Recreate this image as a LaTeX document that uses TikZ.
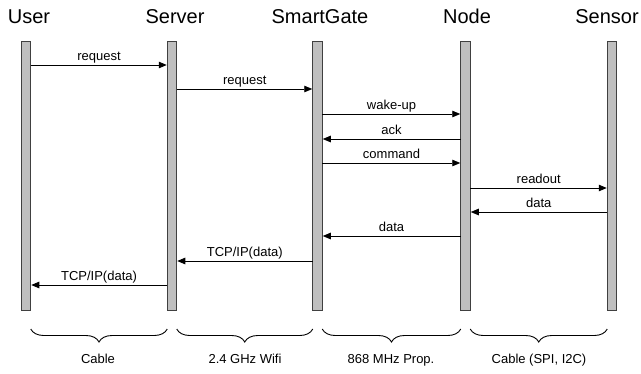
\documentclass[tikz,border=0pt]{standalone}
\usepackage{fontspec}
\setmainfont{Liberation Sans}
\usetikzlibrary{arrows.meta,decorations.pathreplacing}
\begin{document}
\begin{tikzpicture}[x=1pt,y=-1pt,
  bar/.style={draw=black!75,fill=black!25,line width=0.9pt,minimum width=9.5pt,minimum height=269pt,inner sep=0pt,outer sep=0pt},
  title/.style={font=\fontsize{20}{24}\selectfont,anchor=base,inner sep=0pt},
  lbl/.style={font=\fontsize{13}{15}\selectfont,anchor=base,inner sep=0pt},
  mlbl/.style={lbl,yshift=4.5pt},
  msg/.style={draw=black,line width=0.9pt,-{Triangle[length=8pt,width=6.5pt]},shorten >=0.5pt},
  brc/.style={draw=black,line width=0.9pt,decorate,decoration={brace,mirror,amplitude=13pt}}]
\useasboundingbox (0,0) rectangle (641,373);
% lifelines
\node[bar] (user) at (26,175.5) {};
\node[bar] (server) at (172,175.5) {};
\node[bar] (gate) at (317.5,175.5) {};
\node[bar] (node) at (465.5,175.5) {};
\node[bar] (sensor) at (612,175.5) {};
% titles
\node[title] (tuser) at (29,23) {User};
\node[title] (tserver) at (175,23) {Server};
\node[title] (tgate) at (320,23) {SmartGate};
\node[title] (tnode) at (467,23) {Node};
\node[title] (tsensor) at (607,23) {Sensor};
% messages
\draw[msg] (user.east |- 0,65) -- node[mlbl] {request} (server.west |- 0,65);
\draw[msg] (server.east |- 0,89) -- node[mlbl] {request} (gate.west |- 0,89);
\draw[msg] (gate.east |- 0,114) -- node[mlbl] {wake-up} (node.west |- 0,114);
\draw[msg] (node.west |- 0,139) -- node[mlbl] {ack} (gate.east |- 0,139);
\draw[msg] (gate.east |- 0,163) -- node[mlbl] {command} (node.west |- 0,163);
\draw[msg] (node.east |- 0,188) -- node[mlbl] {readout} (sensor.west |- 0,188);
\draw[msg] (sensor.west |- 0,212) -- node[mlbl] {data} (node.east |- 0,212);
\draw[msg] (node.west |- 0,236) -- node[mlbl] {data} (gate.east |- 0,236);
\draw[msg] (gate.west |- 0,261) -- node[mlbl] {TCP/IP(data)} (server.east |- 0,261);
\draw[msg] (server.west |- 0,285) -- node[mlbl] {TCP/IP(data)} (user.east |- 0,285);
% braces
\draw[brc] (user.east |- 0,329) -- (server.west |- 0,329);
\draw[brc] (server.east |- 0,329) -- (gate.west |- 0,329);
\draw[brc] (gate.east |- 0,329) -- (node.west |- 0,329);
\draw[brc] (node.east |- 0,329) -- (sensor.west |- 0,329);
\node[lbl] (l1) at (98,363) {Cable};
\node[lbl] (l2) at (245,363) {2.4 GHz Wifi};
\node[lbl] (l3) at (391,363) {868 MHz Prop.};
\node[lbl] (l4) at (539,363) {Cable (SPI, I2C)};
\end{tikzpicture}
\end{document}
